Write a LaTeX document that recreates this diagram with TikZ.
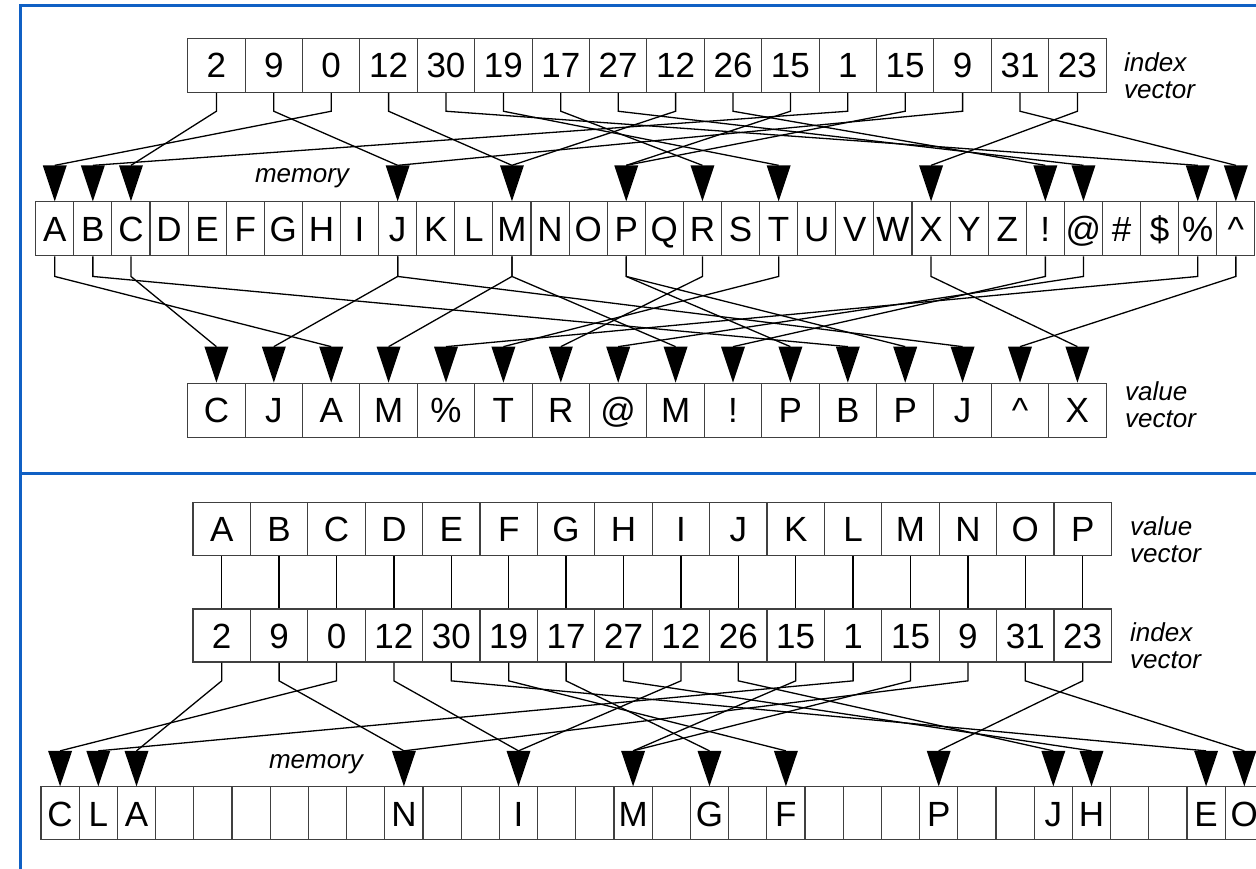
\documentclass[tikz,border=0pt]{standalone}
\usepackage{fontspec}
\setmainfont{Liberation Sans}
\usetikzlibrary{calc}
\definecolor{frameblue}{RGB}{16,96,196}
\begin{document}
\begin{tikzpicture}[x=1pt,y=-1pt,
  cell/.style={draw=black!75, line width=1.1pt, rectangle, inner sep=0pt, minimum height=54pt,
               text height=30pt, text depth=4.8pt, font=\fontsize{35}{40}\selectfont},
  wcell/.style={cell, minimum width=57.4pt},
  mcell/.style={cell, minimum width=38.1pt},
  conn/.style={line width=1.3pt, black},
  lbl/.style={font=\itshape\fontsize{26}{27}\selectfont, align=left, anchor=west, inner sep=0pt}]
\useasboundingbox (0,0) rectangle (1256,869);
% blue frame
\draw[frameblue, line width=2.7pt] (1270,5.3) -- (20.3,5.3) -- (20.3,880);
\draw[frameblue, line width=2.5pt] (20.3,473.5) -- (1270,473.5);

% ---------- top: gather ----------
\foreach \t [count=\k from 0] in {2,9,0,12,30,19,17,27,12,26,15,1,15,9,31,23}
  \node[wcell] (tI\k) at ({187.7+57.4*(\k+0.5)},65.3) {\t};
\foreach \t [count=\k from 0] in {A,B,C,D,E,F,G,H,I,J,K,L,M,N,O,P,Q,R,S,T,U,V,W,X,Y,Z,!,@,{\#},{\$},{\%},{\textasciicircum}}
  \node[mcell] (tM\k) at ({35.7+38.1*(\k+0.5)},228.9) {\t};
\foreach \t [count=\k from 0] in {C,J,A,M,{\%},T,R,@,M,!,P,B,P,J,{\textasciicircum},X}
  \node[wcell] (tV\k) at ({187.7+57.4*(\k+0.5)},410.2) {\t};

\foreach \m in {0,1,2,9,12,15,17,19,23,26,27,30,31} {
  \coordinate (aT\m) at ($(tM\m.north)+(0,-36)$);
  \fill (tM\m.north) -- ++(-12,-36) -- ++(24,0) -- cycle;
}
\foreach \k in {0,...,15} {
  \coordinate (aV\k) at ($(tV\k.north)+(0,-36)$);
  \fill (tV\k.north) -- ++(-12,-36) -- ++(24,0) -- cycle;
}
\foreach \v [count=\k from 0] in {2,9,0,12,30,19,17,27,12,26,15,1,15,9,31,23} {
  \draw[conn] (tI\k.south) -- ++(0,18.4) -- (aT\v);
  \draw[conn] (tM\v.south) -- ++(0,20) -- (aV\k);
}
\node[lbl] (labTI) at (1124,76) {index\\vector};
\node[lbl, anchor=center] (labTM) at (302,178) {memory};
\node[lbl] (labTV) at (1125,405) {value\\vector};

% ---------- bottom: scatter ----------
\foreach \t [count=\k from 0] in {A,B,C,D,E,F,G,H,I,J,K,L,M,N,O,P}
  \node[wcell, minimum height=53pt] (bV\k) at ({193+57.4*(\k+0.5)},529.1) {\t};
\foreach \t [count=\k from 0] in {2,9,0,12,30,19,17,27,12,26,15,1,15,9,31,23}
  \node[wcell, minimum height=53pt] (bI\k) at ({193+57.4*(\k+0.5)},635.5) {\t};
\foreach \t [count=\k from 0] in {C,L,A,{},{},{},{},{},{},N,{},{},I,{},{},M,{},G,{},F,{},{},{},P,{},{},J,H,{},{},E,O}
  \node[cell, minimum width=38.2pt, minimum height=53pt] (bM\k) at ({41+38.2*(\k+0.5)},813.4) {\t};

\foreach \m in {0,1,2,9,12,15,17,19,23,26,27,30,31} {
  \coordinate (aB\m) at ($(bM\m.north)+(0,-35.5)$);
  \fill (bM\m.north) -- ++(-12,-35.5) -- ++(24,0) -- cycle;
}
\foreach \k in {0,...,15}
  \draw[conn] (bV\k.south) -- (bI\k.north);
\foreach \v [count=\k from 0] in {2,9,0,12,30,19,17,27,12,26,15,1,15,9,31,23}
  \draw[conn] (bI\k.south) -- ++(0,18.3) -- (aB\v);

\node[lbl] (labBV) at (1130,540) {value\\vector};
\node[lbl] (labBI) at (1130,646) {index\\vector};
\node[lbl, anchor=center] (labBM) at (316,764) {memory};
\end{tikzpicture}
\end{document}
